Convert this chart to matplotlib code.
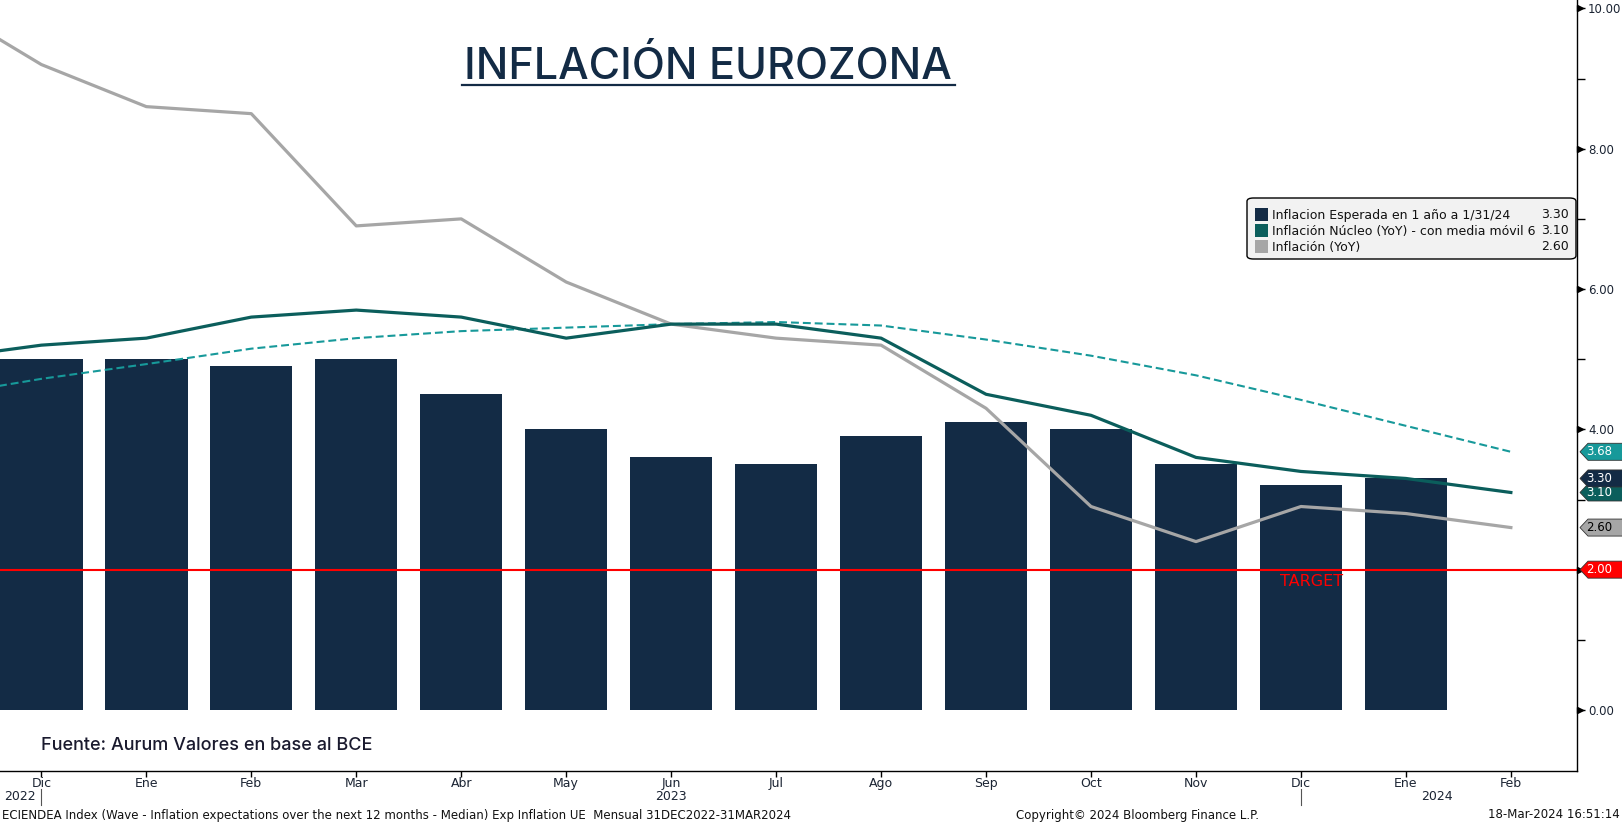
import matplotlib
matplotlib.use('Agg')
import matplotlib.pyplot as plt
from matplotlib.patches import Polygon, FancyBboxPatch, Rectangle
from matplotlib.lines import Line2D
import matplotlib.transforms as mtransforms
from matplotlib.ticker import FixedLocator, FormatStrFormatter

# ---------------- data ----------------
months = ['Dic', 'Ene', 'Feb', 'Mar', 'Abr', 'May', 'Jun', 'Jul', 'Ago',
          'Sep', 'Oct', 'Nov', 'Dic', 'Ene', 'Feb']
years = ['2022', '2023', '2024']
year_pos = [-0.2, 6.0, 13.3]
year_sep = [0, 12]

# expectations (bars), Dic 2022 .. Ene 2024
expect_vals = [5.0, 5.0, 4.9, 5.0, 4.5, 4.0, 3.6, 3.5, 3.9, 4.1, 4.0, 3.5, 3.2, 3.3]
# lines start one month earlier (Nov 2022) .. Feb 2024
line_pos = [-1, 0, 1, 2, 3, 4, 5, 6, 7, 8, 9, 10, 11, 12, 13, 14]
core_vals = [5.0, 5.2, 5.3, 5.6, 5.7, 5.6, 5.3, 5.5, 5.5, 5.3, 4.5, 4.2, 3.6, 3.4, 3.3, 3.1]
core_ma6_vals = [4.47, 4.72, 4.93, 5.15, 5.30, 5.40, 5.45, 5.50, 5.53, 5.48, 5.28, 5.05, 4.77, 4.42, 4.05, 3.68]
headline_vals = [10.1, 9.2, 8.6, 8.5, 6.9, 7.0, 6.1, 5.5, 5.3, 5.2, 4.3, 2.9, 2.4, 2.9, 2.8, 2.6]
target_val = 2.0

yticks_major = [0, 2, 4, 6, 8, 10]
yticks_minor = [1, 3, 5, 7, 9]

legend_labels = ['Inflacion Esperada en 1 año a 1/31/24',
                 'Inflación Núcleo (YoY) - con media móvil 6',
                 'Inflación (YoY)']
legend_values = ['3.30', '3.10', '2.60']

badge_vals = [3.68, 3.10, 3.30, 2.60, 2.00]
badge_labels = ['3.68', '3.10', '3.30', '2.60', '2.00']

# ---------------- style ----------------
NAVY = '#132B45'
TEAL_D = '#0B5E5C'
TEAL_L = '#17999A'
GRAY = '#A6A6A6'
RED = '#FF0000'
TXT = '#1b2433'
badge_face = [TEAL_L, TEAL_D, NAVY, GRAY, RED]
badge_text = ['white', 'white', 'white', 'black', 'white']

W, H = 1622, 823
fig = plt.figure(figsize=(W / 100, H / 100), dpi=100)
ax = fig.add_axes([0, (H - 771) / H, 1577 / W, 771 / H])

ax.bar(range(len(expect_vals)), expect_vals, width=0.785, color=NAVY, zorder=1)
ax.axhline(target_val, color=RED, lw=1.5, zorder=3)
ax.plot(line_pos, headline_vals, color=GRAY, lw=2.3, zorder=4)
ax.plot(line_pos, core_vals, color=TEAL_D, lw=2.3, zorder=5)
ax.plot(line_pos, core_ma6_vals, color=TEAL_L, lw=1.5, dashes=(3.8, 1.9), zorder=4)

ax.text(11.8, 1.83, 'TARGET', color=RED, fontsize=11.5, va='center', ha='left',
        family='DejaVu Sans', zorder=6)

ax.set_xlim(-0.394, 14.63)
ax.set_ylim(-0.87, 10.12)

for s in ['top', 'left']:
    ax.spines[s].set_visible(False)
for s in ['right', 'bottom']:
    ax.spines[s].set_color('black')
    ax.spines[s].set_linewidth(1.0)

ax.yaxis.tick_right()
ax.yaxis.set_major_locator(FixedLocator(yticks_major))
ax.yaxis.set_minor_locator(FixedLocator(yticks_minor))
ax.yaxis.set_major_formatter(FormatStrFormatter('%.2f'))
ax.tick_params(axis='y', which='both', direction='out', length=6, width=1,
               labelsize=8.5, pad=2, colors='black')
ax.set_xticks(range(len(months)))
ax.set_xticklabels(months)
ax.tick_params(axis='x', which='major', direction='out', length=4, width=1,
               labelsize=9, pad=0)
for lab in ax.get_xticklabels() + ax.get_yticklabels():
    lab.set_family('DejaVu Sans')
    lab.set_color(TXT)

btr = mtransforms.blended_transform_factory(ax.transAxes, ax.transData)
px = 1 / 1577.0
# small arrow heads on the major y ticks
ax.plot([1 + 2.5 * px] * len(yticks_major), yticks_major, linestyle='none',
        marker='>', markersize=4, color='black', transform=btr, clip_on=False,
        zorder=6)

# year labels & separators
tr_x = mtransforms.blended_transform_factory(ax.transData, fig.transFigure)
for y, p in zip(years, year_pos):
    ax.text(p, 1 - 797 / H, y, transform=tr_x, ha='center', va='center',
            fontsize=9, family='DejaVu Sans', color=TXT)
for p in year_sep:
    fig.add_artist(Line2D([p, p], [1 - 789 / H, 1 - 805 / H], transform=tr_x,
                          color='#555555', lw=0.8))

# badges on the right axis
hh = 8.5 / 70.1
for v, lab, fc, tc in zip(badge_vals, badge_labels, badge_face, badge_text):
    x0 = 1 + 3 * px
    x1 = 1 + 11 * px
    x2 = 1 + 46 * px
    poly = Polygon([[x0, v], [x1, v + hh], [x2, v + hh], [x2, v - hh], [x1, v - hh]],
                   closed=True, transform=btr, facecolor=fc, edgecolor='#333333',
                   lw=0.6, clip_on=False, zorder=20)
    ax.add_patch(poly)
    ax.text(1 + 9 * px, v, lab, transform=btr, color=tc, fontsize=8.5,
            va='center', ha='left', family='DejaVu Sans', clip_on=False, zorder=21)

# legend (manual, pixel based)
def fx(x):
    return x / W

def fy(y):
    return 1 - y / H

leg = FancyBboxPatch((fx(1247), fy(259)), fx(1576) - fx(1247), fy(198) - fy(259),
                     boxstyle='round,pad=0,rounding_size=0.004',
                     transform=fig.transFigure, facecolor='#F2F2F2',
                     edgecolor='black', lw=1.0, zorder=30)
fig.add_artist(leg)
leg_colors = [NAVY, TEAL_D, GRAY]
row_y = [215, 231, 247]
for lab, val, c, yy in zip(legend_labels, legend_values, leg_colors, row_y):
    fig.add_artist(Rectangle((fx(1255), fy(yy + 6)), fx(13), 13 / H,
                             transform=fig.transFigure, facecolor=c,
                             edgecolor='none', zorder=31))
    fig.text(fx(1272), fy(yy), lab, fontsize=9, va='center', ha='left',
             family='DejaVu Sans', color='#111111', zorder=32)
    fig.text(fx(1569), fy(yy), val, fontsize=9, va='center', ha='right',
             family='DejaVu Sans', color='#111111', zorder=32)

# title
fig.text(fx(708), fy(79), 'INFLACIÓN EUROZONA', fontsize=31, ha='center',
         va='baseline', family='Inter', weight='medium', color=NAVY)
fig.add_artist(Line2D([fx(462), fx(955)], [fy(85), fy(85)],
                      transform=fig.transFigure, color=NAVY, lw=1.6))

# source
fig.text(fx(41), fy(745), 'Fuente: Aurum Valores en base al BCE', fontsize=13,
         ha='left', va='center', family='Inter', weight='medium', color='#1a1a2e')

# footer
fig.text(fx(2), fy(815), 'ECIENDEA Index (Wave - Inflation expectations over the next 12 months - Median) Exp Inflation UE  Mensual 31DEC2022-31MAR2024',
         fontsize=8.5, ha='left', va='center', family='DejaVu Sans', color='#111111')
fig.text(fx(1137), fy(815), 'Copyright© 2024 Bloomberg Finance L.P.', fontsize=8.5,
         ha='center', va='center', family='DejaVu Sans', color='#111111')
fig.text(fx(1620), fy(815), '18-Mar-2024 16:51:14', fontsize=8.5, ha='right',
         va='center', family='DejaVu Sans', color='#111111')

fig.savefig('out.png', dpi=100)
